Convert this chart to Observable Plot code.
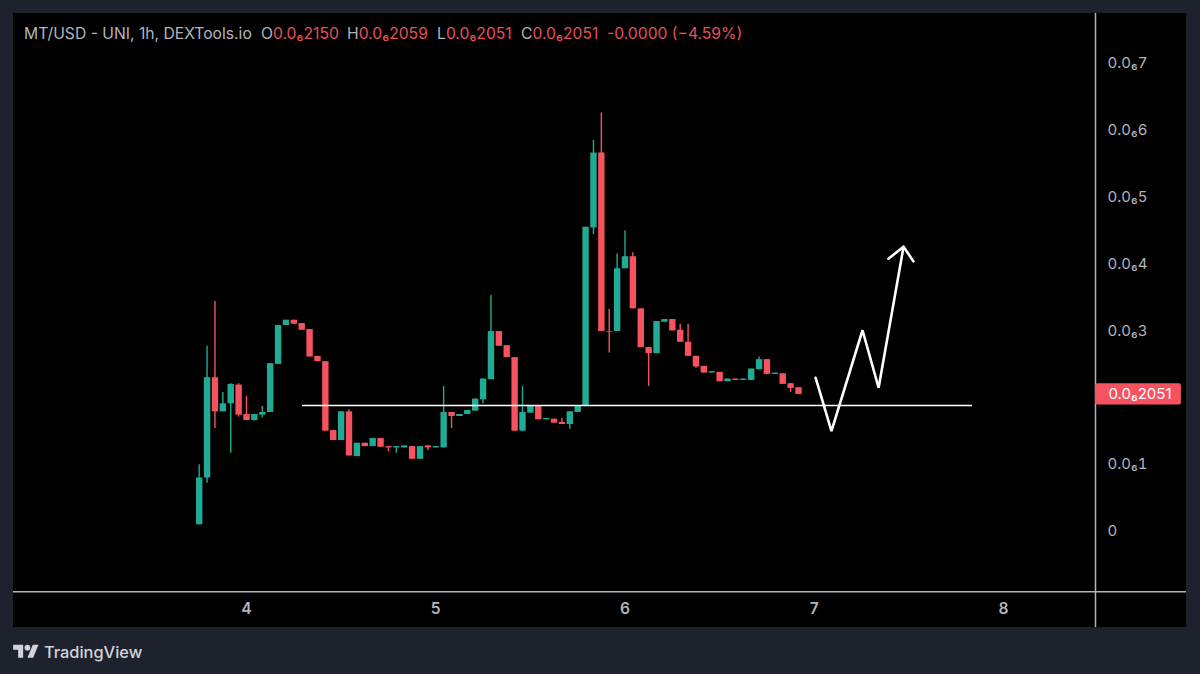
<!DOCTYPE html>
<html>
<head>
<meta charset="utf-8">
<script src="https://cdn.jsdelivr.net/npm/d3@7"></script>
<script src="https://cdn.jsdelivr.net/npm/@observablehq/plot@0.6"></script>
<style>
html,body{margin:0;padding:0;width:1200px;height:674px;overflow:hidden;background:#1e222d;font-family:Inter,"Noto Sans",sans-serif;}
#panel{position:absolute;left:13px;top:13px;width:1173px;height:614px;background:#000;}
#chart{position:absolute;left:0;top:0;}
#legend{position:absolute;left:24px;top:24px;height:20px;font-size:15.7px;line-height:20px;color:#b2b5be;white-space:nowrap;}
#legend span{position:absolute;top:0;}
#legend .v{color:#e8505b;font-weight:400;}
#brand{position:absolute;left:13px;top:642px;height:20px;display:flex;align-items:center;color:#d1d4dc;font-size:16.4px;font-weight:500;}
#brand svg{display:block;margin-right:5px;}
</style>
</head>
<body>
<div id="panel"></div>
<div id="chart"></div>
<div id="legend">
<span style="left:0">MT/USD - UNI, 1h, DEXTools.io</span>
<span style="left:237px">O<b class="v">0.0₆2150</b></span>
<span style="left:323px">H<b class="v">0.0₆2059</b></span>
<span style="left:413px">L<b class="v">0.0₆2051</b></span>
<span style="left:497px">C<b class="v">0.0₆2051</b></span>
<span class="v" style="left:583px">-0.0000 (−4.59%)</span>
</div>
<div id="brand">
<svg width="26" height="20" viewBox="0 0 36 28"><path fill="#d1d4dc" d="M14 22H7V11H0V4h14v18ZM28 22h-8l7.5-18h8L28 22Z"/><circle fill="#d1d4dc" cx="20" cy="8" r="4"/></svg>
TradingView
</div>
<script>
// Hours are counted from the "4" day tick; prices are in units of 0.0₆1
const firstHour = -6;
const opens = [0.10,0.80,2.30,1.79,1.91,2.19,1.75,1.66,1.74,1.78,2.50,3.08,3.16,3.11,3.02,2.62,2.54,1.51,1.36,1.79,
  1.12,1.32,1.27,1.39,1.27,1.25,1.25,1.27,1.08,1.28,1.25,1.25,1.78,1.72,1.75,1.80,1.97,2.27,2.99,2.78,
  2.60,1.50,1.77,1.88,1.67,1.68,1.63,1.60,1.78,1.88,4.54,5.66,2.99,2.99,3.93,4.11,3.33,2.75,2.66,3.13,
  3.17,3.01,2.83,2.62,2.47,2.37,2.38,2.24,2.28,2.26,2.26,2.42,2.57,2.35,2.36,2.21,2.15];
const highs = [1.00,2.77,3.44,2.08,2.21,2.21,2.02,1.75,1.87,2.51,3.08,3.16,3.16,3.11,3.02,2.62,2.54,1.51,1.79,1.82,
  1.32,1.32,1.39,1.39,1.27,1.27,1.28,1.27,1.27,1.28,1.27,2.17,1.78,1.75,1.81,1.98,2.28,3.53,2.99,2.78,
  2.60,2.17,1.88,1.88,1.69,1.68,1.69,1.79,1.88,4.55,5.85,6.26,3.32,4.15,4.50,4.17,3.33,2.75,3.14,3.17,
  3.17,3.10,3.10,2.62,2.47,2.39,2.38,2.28,2.28,2.28,2.43,2.61,2.57,2.37,2.36,2.21,2.15];
const lows = [0.10,0.72,1.54,1.79,1.17,1.71,1.66,1.65,1.70,1.78,2.50,3.08,3.10,3.01,2.61,2.54,1.50,1.36,1.36,1.13,
  1.12,1.27,1.27,1.26,1.19,1.17,1.25,1.08,1.08,1.21,1.25,1.25,1.54,1.72,1.75,1.80,1.91,2.27,2.77,2.60,
  1.50,1.50,1.77,1.67,1.67,1.62,1.60,1.53,1.78,1.88,4.44,2.99,2.67,2.99,3.93,3.33,2.75,2.17,2.66,3.13,
  3.00,2.83,2.62,2.44,2.37,2.37,2.24,2.24,2.26,2.26,2.26,2.42,2.35,2.35,2.20,2.08,2.05];
const closes = [0.80,2.30,1.79,1.91,2.20,1.74,1.66,1.75,1.78,2.51,3.08,3.16,3.10,3.01,2.61,2.54,1.50,1.36,1.79,1.13,
  1.32,1.27,1.39,1.26,1.25,1.27,1.28,1.08,1.27,1.25,1.27,1.78,1.72,1.75,1.81,1.98,2.28,2.99,2.77,2.60,
  1.50,1.78,1.88,1.67,1.69,1.62,1.60,1.79,1.88,4.55,5.66,2.99,2.98,3.93,4.11,3.33,2.75,2.66,3.14,3.17,
  3.00,2.83,2.62,2.46,2.37,2.39,2.24,2.28,2.26,2.28,2.43,2.57,2.35,2.37,2.20,2.14,2.05];

const dayTicks = [4,5,6,7,8];
const priceTicks = [0,1,3,4,5,6,7];
const lastPrice = 2.051;
const supportPrice = 1.885;
const supportDays = [4.296,7.836];
const sketchDays = [7.007,7.091,7.255,7.340,7.472];
const sketchPrices = [2.30,1.50,3.01,2.15,4.26];
const arrowDays = [7.392,7.472,7.524];
const arrowPrices = [4.08,4.26,4.04];

const green = "#22ab94", red = "#f7525f", axisGrey = "#b2b5be";
const xDomain = [2.7688,8.4861], yDomain = [-0.9124,7.7475];
const candles = opens.map((o,i)=>({day:4+(firstHour+i)/24,o,h:highs[i],l:lows[i],c:closes[i],up:closes[i]>=o}));
const fmtPrice = v => v===0 ? "0" : `0.0₆${v}`;
const colorOf = d => d.up ? green : red;
const rowOf = (xs,ys) => xs.map((x,i)=>({x,y:ys[i]}));

const plot = Plot.plot({
  width:1200, height:674,
  marginLeft:13, marginRight:105, marginTop:13, marginBottom:82,
  style:{background:"transparent",fontFamily:"Inter, 'Noto Sans', sans-serif"},
  x:{domain:xDomain}, y:{domain:yDomain},
  marks:[
    Plot.ruleX(candles,{x:"day",y1:"l",y2:"h",stroke:colorOf,strokeWidth:1.4}),
    Plot.ruleX(candles,{x:"day",y1:"o",y2:"c",stroke:colorOf,strokeWidth:6.4}),
    Plot.ruleY([supportPrice],{x1:supportDays[0],x2:supportDays[1],stroke:"#fff",strokeWidth:1.5}),
    Plot.line(rowOf(sketchDays,sketchPrices),{x:"x",y:"y",stroke:"#fff",strokeWidth:2.6,strokeLinejoin:"miter"}),
    Plot.line(rowOf(arrowDays,arrowPrices),{x:"x",y:"y",stroke:"#fff",strokeWidth:2.6,strokeLinejoin:"miter"}),
    // axis lines run on past the plot area into the price and time strips
    Plot.ruleY([yDomain[0]+0.012],{x1:xDomain[0],x2:8.967,stroke:axisGrey,strokeWidth:1.5}),
    Plot.ruleX([xDomain[1]],{y1:-1.436,y2:yDomain[1],stroke:axisGrey,strokeWidth:1.5}),
    Plot.axisX({ticks:dayTicks,tickFormat:d=>String(d),tickSize:0,tickPadding:10,label:null,fontSize:15.5,fontWeight:600,fill:axisGrey}),
    Plot.axisY({anchor:"right",ticks:priceTicks,tickFormat:fmtPrice,tickSize:0,tickPadding:12,label:null,fontSize:15,fill:axisGrey}),
    Plot.rect([lastPrice],{x1:xDomain[1],x2:8.94,y1:d=>d-0.16,y2:d=>d+0.16,fill:red,rx:2}),
    Plot.text([lastPrice],{x:8.555,y:d=>d,text:d=>fmtPrice(String(d).slice(0,1)+String(d).slice(2)),textAnchor:"start",fill:"#fff",fontSize:15})
  ]
});
document.getElementById("chart").appendChild(plot);
</script>
</body>
</html>
